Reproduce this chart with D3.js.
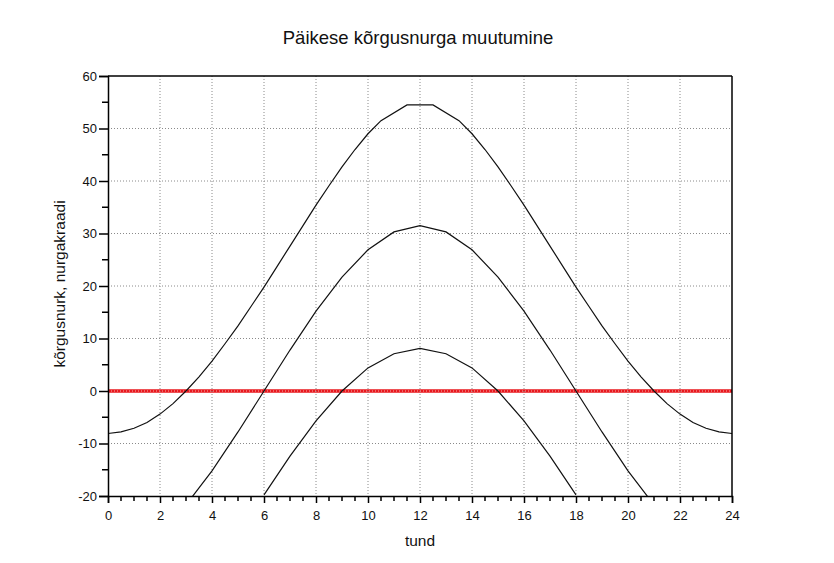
<!DOCTYPE html>
<html>
<head>
<meta charset="utf-8">
<script src="https://cdn.jsdelivr.net/npm/d3@7"></script>
<style>
  html, body { margin: 0; padding: 0; background: #fff; }
  svg { display: block; font-family: "Liberation Sans", Arial, sans-serif; }
</style>
</head>
<body>
<svg id="chart" width="834" height="563"></svg>
<script>
// ---- data ----
const title = "Päikese kõrgusnurga muutumine";
const xLabel = "tund";
const yLabel = "kõrgusnurk, nurgakraadi";

const xTicks = [0, 2, 4, 6, 8, 10, 12, 14, 16, 18, 20, 22, 24];
const yTicks = [-20, -10, 0, 10, 20, 30, 40, 50, 60];

// summer solstice curve
const summerHours = [0, 0.5, 1, 1.5, 2, 2.5, 3, 3.5, 4, 4.5, 5, 5.5, 6, 6.5, 7, 7.5, 8, 8.5, 9, 9.5, 10, 10.5, 11.5,
                     12.5, 13.5, 14, 14.5, 15, 15.5, 16, 16.5, 17, 17.5, 18, 18.5, 19, 19.5, 20, 20.5, 21, 21.5, 22, 22.5, 23, 23.5, 24];
const summerValues = [-8.1, -7.8, -7.1, -6.0, -4.4, -2.4, 0.0, 2.7, 5.7, 9.0, 12.4, 16.1, 19.8, 23.7, 27.6, 31.5, 35.4, 39.1, 42.7, 46.0, 49.0, 51.5, 54.5,
                      54.5, 51.5, 49.0, 46.0, 42.7, 39.1, 35.4, 31.5, 27.6, 23.7, 19.8, 16.1, 12.4, 9.0, 5.7, 2.7, 0.0, -2.4, -4.4, -6.0, -7.1, -7.8, -8.1];

// equinox curve (hourly)
const equinoxHours = [3, 4, 5, 6, 7, 8, 9, 10, 11, 12, 13, 14, 15, 16, 17, 18, 19, 20, 21];
const equinoxValues = [-21.7, -15.2, -7.8, 0.0, 7.8, 15.2, 21.7, 26.9, 30.3, 31.5,
                       30.3, 26.9, 21.7, 15.2, 7.8, 0.0, -7.8, -15.2, -21.7];

// winter solstice curve (hourly)
const winterHours = [6, 7, 8, 9, 10, 11, 12, 13, 14, 15, 16, 17, 18];
const winterValues = [-19.8, -12.4, -5.7, 0.0, 4.4, 7.1, 8.1, 7.1, 4.4, 0.0, -5.7, -12.4, -19.8];

// horizon line
const horizonValue = 0;

// ---- drawing ----
const svg = d3.select("#chart");
const pLeft = 108, pRight = 732, pTop = 76, pBottom = 496;

const x = d3.scaleLinear().domain([0, 24]).range([pLeft, pRight]);
const y = d3.scaleLinear().domain([-20, 60]).range([pBottom, pTop]);

svg.append("defs").append("clipPath").attr("id", "plotClip")
  .append("rect").attr("x", pLeft).attr("y", pTop)
  .attr("width", pRight - pLeft).attr("height", pBottom - pTop);

// red horizon line (under the grid)
svg.append("line")
  .attr("x1", x(0)).attr("x2", x(24))
  .attr("y1", y(horizonValue)).attr("y2", y(horizonValue))
  .attr("stroke", "#e8181e").attr("stroke-width", 3.5);

// grid
const grid = svg.append("g");
grid.selectAll("line.vg").data(xTicks.slice(1, -1)).join("line")
  .attr("x1", d => x(d)).attr("x2", d => x(d))
  .attr("y1", pTop).attr("y2", pBottom)
  .attr("stroke", "#8a8a8a").attr("stroke-width", 1)
  .attr("stroke-dasharray", "1,2");
grid.selectAll("line.hg").data(yTicks.slice(1, -1)).join("line")
  .attr("x1", pLeft).attr("x2", pRight)
  .attr("y1", d => y(d)).attr("y2", d => y(d))
  .attr("stroke", d => d === 0 ? "#f4b0b0" : "#8a8a8a").attr("stroke-width", 1)
  .attr("stroke-dasharray", "1,2");

// curves
const line = d3.line().x(d => x(d[0])).y(d => y(d[1]));
const curves = [
  d3.zip(summerHours, summerValues),
  d3.zip(equinoxHours, equinoxValues),
  d3.zip(winterHours, winterValues)
];
svg.append("g").attr("clip-path", "url(#plotClip)")
  .selectAll("path").data(curves).join("path")
  .attr("d", line)
  .attr("fill", "none").attr("stroke", "#111").attr("stroke-width", 1.2);

// frame (top and right)
svg.append("line").attr("x1", pLeft).attr("x2", pRight).attr("y1", pTop).attr("y2", pTop)
  .attr("stroke", "#000").attr("stroke-width", 1.5);
svg.append("line").attr("x1", pRight).attr("x2", pRight).attr("y1", pTop).attr("y2", pBottom)
  .attr("stroke", "#000").attr("stroke-width", 1.5);

const fmt = d => String(d);

// x axis
const xAxis = d3.axisBottom(x).tickValues(xTicks).tickSize(7).tickPadding(8).tickFormat(fmt);
const gx = svg.append("g").attr("transform", `translate(0,${pBottom})`).call(xAxis);
const xMinor = d3.range(0, 24.01, 0.5).filter(v => v % 2 !== 0);
gx.selectAll("line.minor").data(xMinor).join("line").attr("class", "minor")
  .attr("x1", d => x(d)).attr("x2", d => x(d)).attr("y1", 0).attr("y2", 5)
  .attr("stroke", "#000").attr("stroke-width", 1.5);

// y axis
const yAxis = d3.axisLeft(y).tickValues(yTicks).tickSize(9).tickPadding(2).tickFormat(fmt);
const gy = svg.append("g").attr("transform", `translate(${pLeft},0)`).call(yAxis);
const yMinor = [-15, -5, 5, 15, 25, 35, 45, 55];
gy.selectAll("line.minor").data(yMinor).join("line").attr("class", "minor")
  .attr("x1", 0).attr("x2", -6).attr("y1", d => y(d)).attr("y2", d => y(d))
  .attr("stroke", "#000").attr("stroke-width", 1.5);

[gx, gy].forEach(g => {
  g.select(".domain").attr("stroke", "#000").attr("stroke-width", 1.5);
  g.selectAll(".tick line").attr("stroke", "#000").attr("stroke-width", 1.5);
  g.selectAll(".tick text").attr("fill", "#111")
    .style("font-family", "'Liberation Sans', Arial, sans-serif").style("font-size", "13px");
});

// title and labels
svg.append("text").attr("x", 418).attr("y", 44).attr("text-anchor", "middle")
  .style("font-size", "18.5px").attr("fill", "#111").text(title);
svg.append("text").attr("x", 420).attr("y", 546).attr("text-anchor", "middle")
  .style("font-size", "15.5px").attr("fill", "#111").text(xLabel);
svg.append("text").attr("transform", "translate(65,284) rotate(-90)")
  .attr("text-anchor", "middle")
  .style("font-size", "15.5px").attr("fill", "#111").text(yLabel);
</script>
</body>
</html>
